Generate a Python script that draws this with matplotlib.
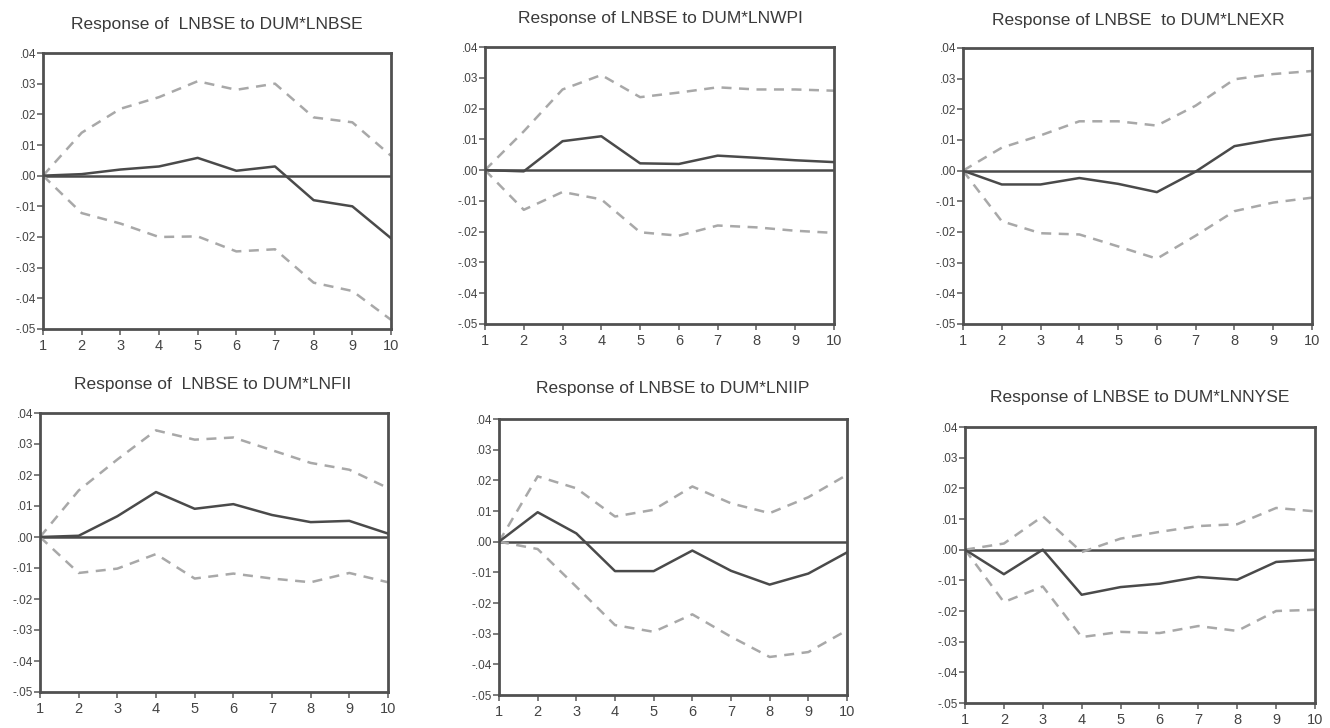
import numpy as np
import matplotlib
matplotlib.use("Agg")
import matplotlib.pyplot as plt

plt.rcParams["font.family"] = ["Liberation Sans", "DejaVu Sans"]

# impulse response horizon
periods = [1, 2, 3, 4, 5, 6, 7, 8, 9, 10]

titles = ["Response of  LNBSE to DUM*LNBSE",
          "Response of LNBSE to DUM*LNWPI",
          "Response of LNBSE  to DUM*LNEXR",
          "Response of  LNBSE to DUM*LNFII",
          "Response of LNBSE to DUM*LNIIP",
          "Response of LNBSE to DUM*LNNYSE"]

# response (solid), upper and lower +/- 2 S.E. bands (dashed)
resp_bse = [0.0, 0.0005, 0.002, 0.003, 0.0058, 0.0016, 0.003, -0.008, -0.010, -0.0204]
up_bse = [0.0, 0.014, 0.0218, 0.0256, 0.0308, 0.028, 0.030, 0.019, 0.0174, 0.0065]
lo_bse = [0.0, -0.0122, -0.0156, -0.020, -0.0198, -0.0247, -0.024, -0.0349, -0.0376, -0.047]

resp_wpi = [0.0, -0.0004, 0.0094, 0.011, 0.0022, 0.002, 0.0047, 0.004, 0.0032, 0.0026]
up_wpi = [0.0, 0.0126, 0.0262, 0.0309, 0.0237, 0.0252, 0.0269, 0.0262, 0.0262, 0.0258]
lo_wpi = [0.0, -0.0129, -0.0071, -0.0095, -0.0202, -0.0213, -0.018, -0.0186, -0.0197, -0.0204]

resp_exr = [0.0, -0.0045, -0.0045, -0.0024, -0.0043, -0.007, -0.0003, 0.008, 0.0102, 0.0118]
up_exr = [0.0, 0.0075, 0.0115, 0.0161, 0.0161, 0.0147, 0.0212, 0.0298, 0.0315, 0.0325]
lo_exr = [0.0, -0.0165, -0.0204, -0.0208, -0.0247, -0.0287, -0.0212, -0.0132, -0.0104, -0.0088]

resp_fii = [0.0, 0.0004, 0.0067, 0.0145, 0.0091, 0.0106, 0.0071, 0.0048, 0.0052, 0.0011]
up_fii = [0.0, 0.015, 0.025, 0.0344, 0.0314, 0.0321, 0.028, 0.0239, 0.0217, 0.0158]
lo_fii = [0.0, -0.0116, -0.0102, -0.0055, -0.0134, -0.0118, -0.0134, -0.0146, -0.0116, -0.0146]

resp_iip = [0.0, 0.0096, 0.0027, -0.0096, -0.0096, -0.0029, -0.0095, -0.014, -0.0104, -0.0035]
up_iip = [0.0, 0.0213, 0.0174, 0.0082, 0.0104, 0.018, 0.0125, 0.0093, 0.0145, 0.0218]
lo_iip = [0.0, -0.0024, -0.0147, -0.0272, -0.0294, -0.0237, -0.031, -0.0376, -0.036, -0.0289]

resp_nyse = [0.0, -0.008, 0.0, -0.0147, -0.0122, -0.0111, -0.0089, -0.0098, -0.004, -0.0032]
up_nyse = [0.0, 0.002, 0.0109, -0.0008, 0.0036, 0.0058, 0.0077, 0.0083, 0.0136, 0.0125]
lo_nyse = [0.0, -0.0171, -0.012, -0.0285, -0.0268, -0.0272, -0.0249, -0.0265, -0.020, -0.0196]

yticks = [0.04, 0.03, 0.02, 0.01, 0.0, -0.01, -0.02, -0.03, -0.04, -0.05]
ytick_labels = [".04", ".03", ".02", ".01", ".00", "-.01", "-.02", "-.03", "-.04", "-.05"]

W, H = 1330, 728
fig = plt.figure(figsize=(W/100, H/100), dpi=100)

# pixel boxes (left, top, right, bottom) and title centres
boxes = [(43, 53, 391, 329), (485, 47, 834, 324), (963, 48, 1312, 324),
         (40, 413, 388, 692), (499, 419, 847, 695), (965, 427, 1315, 703)]
title_pos = [(217, 25), (660, 18), (1138, 20), (213, 385), (673, 389), (1140, 398)]

series = [(resp_bse, up_bse, lo_bse), (resp_wpi, up_wpi, lo_wpi),
          (resp_exr, up_exr, lo_exr), (resp_fii, up_fii, lo_fii),
          (resp_iip, up_iip, lo_iip), (resp_nyse, up_nyse, lo_nyse)]

dark = "#4a4a4a"
light = "#a8a8a8"

for i in range(6):
    l, t, r, b = boxes[i]
    ax = fig.add_axes([l/W, 1 - b/H, (r - l)/W, (b - t)/H])
    resp, up, lo = series[i]
    ax.axhline(0, color=dark, lw=1.8, zorder=2)
    ax.plot(periods, up, color=light, lw=1.8, dashes=(4, 3))
    ax.plot(periods, lo, color=light, lw=1.8, dashes=(4, 3))
    ax.plot(periods, resp, color=dark, lw=1.8, zorder=3)
    ax.set_xlim(1, 10)
    ax.set_ylim(-0.05, 0.04)
    ax.set_xticks(periods)
    ax.set_yticks(yticks)
    ax.set_yticklabels(ytick_labels)
    ax.tick_params(direction="out", length=4, width=1.2, colors="#666666",
                   labelcolor="#444444", pad=1)
    ax.tick_params(axis="x", labelsize=10.5, pad=3)
    ax.tick_params(axis="y", labelsize=8.5)
    for s in ax.spines.values():
        s.set_color("#505050")
        s.set_linewidth(2)
    fig.text(title_pos[i][0]/W, 1 - title_pos[i][1]/H, titles[i],
             ha="center", va="center", fontsize=12.5, color="#3a3a3a")

plt.savefig("out.png", dpi=100)
